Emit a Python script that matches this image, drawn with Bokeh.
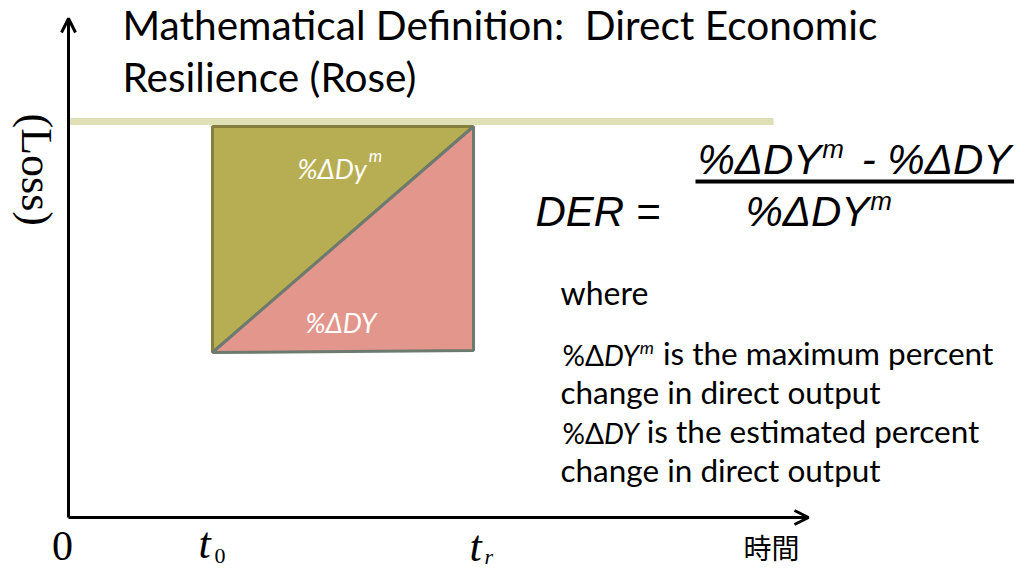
import math
import os
import subprocess
from bokeh.plotting import figure
from bokeh.models import Range1d, Arrow, OpenHead
from bokeh.embed import file_html
from bokeh.resources import INLINE
from bokeh.core.properties import value

# ---------------- data (diagram units: time → x, loss → y) ----------------
t_zero = 0
t_start = 144          # t0
t_recover = 405        # tr
t_axis_end = 740
loss_axis_end = 499
baseline_loss = 396    # pre-disaster level line
baseline_end = 705
loss_top = 391         # maximum loss level (top of box)
loss_at_t0 = 165
loss_at_tr = 167

olive_x = [t_start, t_recover, t_start]
olive_y = [loss_top, loss_top, loss_at_t0]
pink_x = [t_start, t_recover, t_recover]
pink_y = [loss_at_t0, loss_top, loss_at_tr]

title_lines = ["Mathematical Definition:\u00a0 Direct Economic", "Resilience (Rose)"]
y_label = "(Loss)"
x_label = "時間"
time_labels = ["0", "t", "t"]
time_subs = ["", "0", "r"]
where_text = "where"
legend_rest = ["is the maximum percent", "change in direct output",
               "is the estimated percent", "change in direct output"]

# ---------------- figure ----------------
X0, Y0 = 68, 517   # picture column/row of the origin
p = figure(width=1014, height=570, x_range=Range1d(-X0, 1014 - X0), y_range=Range1d(Y0 - 570, Y0),
           output_backend="svg", toolbar_location=None, min_border=0,
           x_axis_type=None, y_axis_type=None, outline_line_color=None,
           background_fill_color="white", border_fill_color="white")
p.xgrid.visible = False
p.ygrid.visible = False

# baseline level
p.line(x=[t_zero, baseline_end], y=[baseline_loss, baseline_loss], line_color="#dfe0b6", line_width=7)

# triangles
p.patch(x=olive_x, y=olive_y, fill_color="#b7ae53", line_color="#857e3c", line_width=3)
p.patch(x=pink_x, y=pink_y, fill_color="#e2968c", line_color="#6c7a70", line_width=3)

# axes with arrows
p.add_layout(Arrow(x_start=t_zero, y_start=0, x_end=t_zero, y_end=loss_axis_end,
                   line_width=3, line_color="black",
                   end=OpenHead(size=14, line_width=3, line_color="black")))
p.add_layout(Arrow(x_start=t_zero, y_start=0, x_end=t_axis_end, y_end=0,
                   line_width=3, line_color="black",
                   end=OpenHead(size=14, line_width=3, line_color="black")))

# ---------------- text helpers ----------------
_fonts = {}


def _font(family, italic):
    key = (family, italic)
    if key not in _fonts:
        f = None
        try:
            from PIL import ImageFont
            style = "Italic" if italic else "Regular"
            path = subprocess.run(["fc-match", "-f", "%{file}", f"{family}:style={style}"],
                                  capture_output=True, text=True, timeout=5).stdout.strip()
            if path and os.path.exists(path):
                f = ImageFont.truetype(path, 100)
        except Exception:
            f = None
        _fonts[key] = f
    return _fonts[key]


def measure(s, family, size, italic):
    f = _font(family, italic)
    if f is not None:
        try:
            return f.getlength(s) * size / 100.0
        except Exception:
            pass
    return 0.55 * size * len(s)


def ctr(baseline_row, size):
    return baseline_row - 0.35 * size


def rich(col, pieces, color="black"):
    x = col - X0
    for pc in pieces:
        s, fam, size, ital, base_row = pc[:5]
        gap = pc[5] if len(pc) > 5 else 0
        x += gap
        p.text(x=[x], y=[Y0 - ctr(base_row, size)], text=[s], text_font=value(fam),
               text_font_size=f"{size}px", text_font_style="italic" if ital else "normal",
               text_color=color, text_align="left", text_baseline="middle")
        x += measure(s, fam, size, ital)


def txt(col, row, s, fam, size, ital=False, color="black", align="left", angle=0):
    p.text(x=[col - X0], y=[Y0 - row], text=[s], text_font=value(fam), text_font_size=f"{size}px",
           text_font_style="italic" if ital else "normal", text_color=color,
           text_align=align, text_baseline="middle", angle=angle)


SANS = "Lato"
MATH = "Liberation Sans"
SERIF = "Liberation Serif"

# title
rich(122, [(title_lines[0], SANS, 40.6, False, 38)])
rich(122, [(title_lines[1], SANS, 40.6, False, 90)])

# y label (rotated, reads top to bottom)
txt(36, 113, y_label, SERIF, 44, angle=-math.pi / 2)

# box labels
rich(297, [("%Δ", SANS, 27, True, 177), ("Dy", SANS, 27, True, 177),
           ("m", SANS, 17, True, 161, 2)], color="white")
rich(305, [("%Δ", SANS, 27, True, 331), ("DY", SANS, 27, True, 331)], color="white")

# formula
rich(535, [("DER\u00a0=", MATH, 42, True, 226)])
rich(697, [("%ΔDY", MATH, 42, True, 174), ("m", MATH, 26, True, 158, 1),
           ("\u00a0-\u00a0%ΔDY", MATH, 42, True, 174, 6)])
p.line(x=[695 - X0, 1014 - X0], y=[Y0 - 181, Y0 - 181], line_color="black", line_width=4)
rich(745, [("%ΔDY", MATH, 42, True, 226), ("m", MATH, 26, True, 210, 1)])

# explanation
rich(560, [(where_text, SANS, 32, False, 303)])
rich(562, [("%Δ", SANS, 28, False, 364), ("DY", SANS, 28, True, 364),
           ("m", SANS, 18, True, 353, 1), (legend_rest[0], SANS, 31.5, False, 364, 9)])
rich(560, [(legend_rest[1], SANS, 31.5, False, 403)])
rich(562, [("%Δ", SANS, 28, False, 442), ("DY", SANS, 28, True, 442),
           (legend_rest[2], SANS, 31.5, False, 442, 8)])
rich(560, [(legend_rest[3], SANS, 31.5, False, 481)])

# time labels (kept inside the 570px figure)
txt(t_zero + X0 - 6, 545, time_labels[0], SERIF, 42, align="center")
txt(t_start + X0 - 14, 543, time_labels[1], SERIF, 44, ital=True)
txt(t_start + X0 + 2, 555, time_subs[1], SERIF, 22)
txt(t_recover + X0 - 4, 546, time_labels[2], SERIF, 44, ital=True)
txt(t_recover + X0 + 11, 556, time_subs[2], SERIF, 22, ital=True)
txt(771, 546, x_label, "Noto Sans CJK JP", 28, align="center")

open("out.html", "w").write(file_html(p, INLINE))
